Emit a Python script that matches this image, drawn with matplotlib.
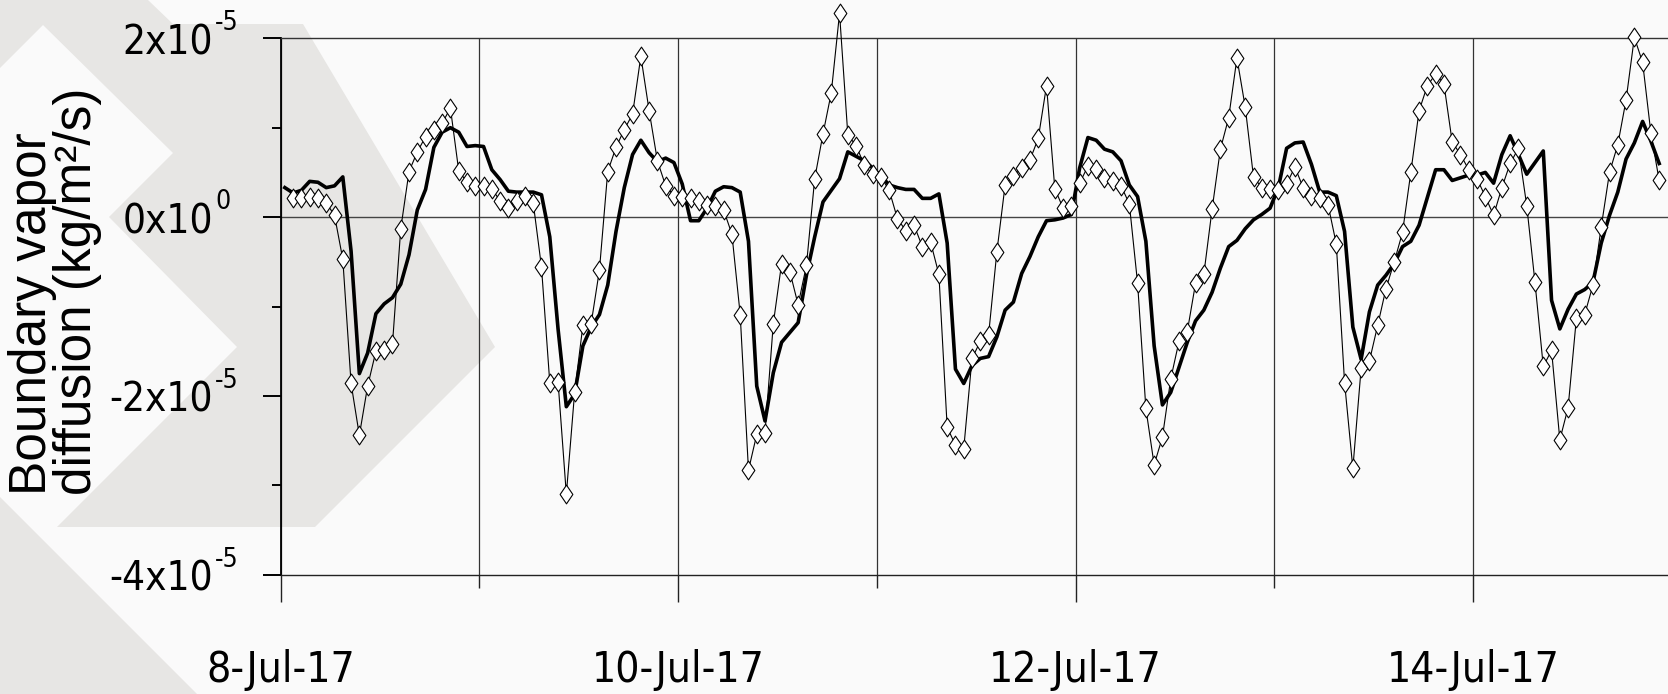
import os
import matplotlib
matplotlib.use("Agg")
import matplotlib.pyplot as plt
import matplotlib.dates as mdates
import matplotlib.font_manager as fm
import matplotlib.transforms as mtransforms
from matplotlib.path import Path
from matplotlib.patches import Polygon
from matplotlib.ticker import FixedLocator, FuncFormatter, NullFormatter
import numpy as np
import pandas as pd

# values in units of 1e-5 kg/m2/s, hourly
scale = 1e-5
diamond_start = "2017-07-08 01:30"
diamond_vals = [
    0.21, 0.21, 0.23, 0.21, 0.16, 0.02, -0.47, -1.86, -2.44, -1.89,
    -1.50, -1.49, -1.42, -0.13, 0.51, 0.73, 0.90, 0.98, 1.05, 1.22,
    0.52, 0.39, 0.35, 0.35, 0.32, 0.18, 0.10, 0.18, 0.24, 0.16,
    -0.56, -1.85, -1.84, -3.10, -1.96, -1.21, -1.19, -0.59, 0.51, 0.78,
    0.98, 1.15, 1.80, 1.19, 0.63, 0.35, 0.24, 0.23, 0.21, 0.18,
    0.14, 0.12, 0.08, -0.19, -1.09, -2.83, -2.43, -2.41, -1.19, -0.52,
    -0.61, -0.98, -0.54, 0.43, 0.93, 1.39, 2.28, 0.92, 0.80, 0.58,
    0.48, 0.45, 0.30, -0.02, -0.15, -0.09, -0.33, -0.28, -0.64, -2.35,
    -2.55, -2.59, -1.58, -1.39, -1.32, -0.39, 0.36, 0.46, 0.55, 0.64,
    0.88, 1.47, 0.32, 0.10, 0.13, 0.38, 0.57, 0.54, 0.44, 0.40,
    0.35, 0.15, -0.74, -2.14, -2.77, -2.46, -1.81, -1.39, -1.28, -0.74,
    -0.64, 0.09, 0.76, 1.11, 1.78, 1.23, 0.45, 0.33, 0.31, 0.30,
    0.37, 0.56, 0.33, 0.24, 0.21, 0.14, -0.30, -1.85, -2.81, -1.69,
    -1.61, -1.21, -0.80, -0.50, -0.17, 0.50, 1.19, 1.47, 1.60, 1.49,
    0.84, 0.70, 0.53, 0.43, 0.23, 0.02, 0.33, 0.60, 0.77, 0.13,
    -0.73, -1.67, -1.49, -2.49, -2.13, -1.13, -1.09, -0.76, -0.11, 0.50,
    0.81, 1.31, 2.01, 1.73, 0.94, 0.41,
]

thick_start = "2017-07-08 00:30"
thick_vals = [
    0.33,
    0.27, 0.30, 0.40, 0.39, 0.33, 0.35, 0.45, -0.38, -1.75, -1.52,
    -1.08, -0.97, -0.90, -0.75, -0.42, 0.08, 0.31, 0.78, 0.95, 1.00,
    0.95, 0.79, 0.80, 0.79, 0.53, 0.42, 0.29, 0.28, 0.28, 0.28,
    0.25, -0.22, -1.25, -2.12, -1.98, -1.44, -1.23, -1.09, -0.76, -0.16,
    0.33, 0.70, 0.86, 0.72, 0.62, 0.66, 0.61, 0.37, -0.04, -0.04,
    0.10, 0.29, 0.34, 0.33, 0.28, -0.27, -1.89, -2.28, -1.74, -1.40,
    -1.29, -1.18, -0.65, -0.22, 0.17, 0.30, 0.43, 0.73, 0.68, 0.63,
    0.55, 0.46, 0.36, 0.33, 0.31, 0.31, 0.21, 0.21, 0.26, -0.29,
    -1.70, -1.86, -1.66, -1.58, -1.56, -1.34, -1.04, -0.95, -0.63, -0.44,
    -0.22, -0.04, -0.03, -0.01, 0.03, 0.55, 0.89, 0.86, 0.76, 0.73,
    0.63, 0.36, 0.23, -0.27, -1.44, -2.10, -1.96, -1.68, -1.40, -1.16,
    -1.04, -0.84, -0.57, -0.33, -0.26, -0.13, -0.03, 0.03, 0.10, 0.33,
    0.77, 0.83, 0.84, 0.59, 0.28, 0.28, 0.24, -0.16, -1.23, -1.59,
    -1.06, -0.76, -0.65, -0.52, -0.33, -0.27, -0.09, 0.22, 0.53, 0.53,
    0.41, 0.44, 0.47, 0.47, 0.50, 0.38, 0.70, 0.91, 0.70, 0.48,
    0.61, 0.74, -0.93, -1.25, -1.03, -0.86, -0.81, -0.73, -0.29, 0.02,
    0.28, 0.65, 0.83, 1.07, 0.85, 0.60,
]

x_start = "2017-07-08"
x_end = "2017-07-15"
label_days = ["2017-07-08", "2017-07-10", "2017-07-12", "2017-07-14"]
y_major = [-4e-5, -2e-5, 0, 2e-5]
y_mant = ["-4x10", "-2x10", "0x10", "2x10"]
y_exp = ["-5", "-5", "0", "-5"]
y_minor = [-3e-5, -1e-5, 1e-5]

W, H = 1668, 694
bg = "#fafafa"
wm = "#e7e6e4"


def find_font(keys):
    for k in keys:
        for f in fm.fontManager.ttflist:
            if k.lower() in os.path.basename(f.fname).lower():
                return f.fname
    return None


# condensed face for the tick labels (narrow like the original)
narrow_file = find_font(["LiberationSansNarrow-Regular", "DejaVuSansCondensed.ttf",
                         "RobotoCondensed-Regular", "LiberationSans-Regular"])


def nfont(size):
    if narrow_file:
        return fm.FontProperties(fname=narrow_file, size=size)
    return fm.FontProperties(family="Liberation Sans", size=size)


fig = plt.figure(figsize=(W / 100, H / 100), dpi=100, facecolor=bg)

# background chevron decoration of the slide template (pixel outline)
def px(pts):
    return [(x / W, 1 - y / H) for x, y in pts]

chev = [(0, 0), (148, 0), (173, 24), (303, 24), (495, 347), (315, 527),
        (57, 527), (237, 347), (109, 217), (173, 153), (43, 25), (0, 68)]
corner = [(0, 497), (197, 694), (0, 694)]
for pts in (chev, corner):
    fig.patches.append(Polygon(px(pts), closed=True, transform=fig.transFigure,
                               facecolor=wm, edgecolor="none", zorder=-10))

ax = fig.add_axes([280.7 / W, 1 - 574.8 / H, (1671.6 - 280.7) / W, (574.8 - 38.3) / H])
ax.set_facecolor("none")

t_d = pd.date_range(diamond_start, periods=len(diamond_vals), freq="h")
t_t = pd.date_range(thick_start, periods=len(thick_vals), freq="h")

diamond = Path([(0, 1), (0.68, 0), (0, -1), (-0.68, 0), (0, 1)],
               [Path.MOVETO, Path.LINETO, Path.LINETO, Path.LINETO, Path.CLOSEPOLY])

ax.plot(t_t, np.array(thick_vals) * scale, color="black", lw=2.6,
        solid_joinstyle="round", zorder=3)
ax.plot(t_d, np.array(diamond_vals) * scale, color="black", lw=0.8,
        marker=diamond, ms=13.5, mfc="white", mec="black", mew=0.8,
        zorder=4, clip_on=False)

ax.axhline(0, color="#444444", lw=1.0, zorder=1)

ax.set_xlim(pd.Timestamp(x_start), pd.Timestamp(x_end))
ax.set_ylim(-4e-5, 2e-5)

ax.xaxis.set_major_locator(FixedLocator(mdates.date2num(pd.to_datetime(label_days))))
ax.xaxis.set_minor_locator(mdates.DayLocator())
ax.xaxis.set_major_formatter(FuncFormatter(
    lambda v, p: "%d-%s" % (mdates.num2date(v).day, mdates.num2date(v).strftime("%b-%y"))))
ax.grid(True, which="both", axis="x", color="#333333", lw=0.9)

ax.yaxis.set_major_locator(FixedLocator(y_major))
ax.yaxis.set_minor_locator(FixedLocator(y_minor))
ax.yaxis.set_major_formatter(NullFormatter())

ax.tick_params(axis="x", which="major", length=19.5, width=1.0, pad=34,
               direction="out", color="#222222")
ax.tick_params(axis="x", which="minor", length=9.4, width=1.0, direction="out",
               color="#222222")
ax.tick_params(axis="y", which="major", length=13, width=1.4, direction="out")
ax.tick_params(axis="y", which="minor", length=6.5, width=1.4, direction="out")
for lab in ax.get_xticklabels():
    lab.set_fontproperties(nfont(30.5))

# y tick labels: mantissa plus raised exponent
ytr = mtransforms.blended_transform_factory(fig.transFigure, ax.transData)
for v, m, e in zip(y_major, y_mant, y_exp):
    ax.text(213 / W, v, m, transform=ytr + mtransforms.ScaledTranslation(0, -0.05, fig.dpi_scale_trans),
            ha="right", va="center", fontproperties=nfont(29), clip_on=False)
    ax.text(215 / W, v, e, transform=ytr + mtransforms.ScaledTranslation(0, 0.15, fig.dpi_scale_trans),
            ha="left", va="center", fontproperties=nfont(19), clip_on=False)

ax.spines["right"].set_visible(False)
ax.spines["left"].set_linewidth(1.3)
ax.spines["top"].set_color("#333333")
ax.spines["top"].set_linewidth(1.0)
ax.spines["bottom"].set_color("#222222")
ax.spines["bottom"].set_linewidth(1.0)

fig.text(55 / W, 1 - 495 / H, "Boundary vapor\ndiffusion (kg/m\u00b2/s)",
         rotation=90, ha="center", va="bottom", multialignment="left",
         fontsize=37, family="Liberation Sans", linespacing=0.92)

fig.savefig("out.png", dpi=100, facecolor=bg)
